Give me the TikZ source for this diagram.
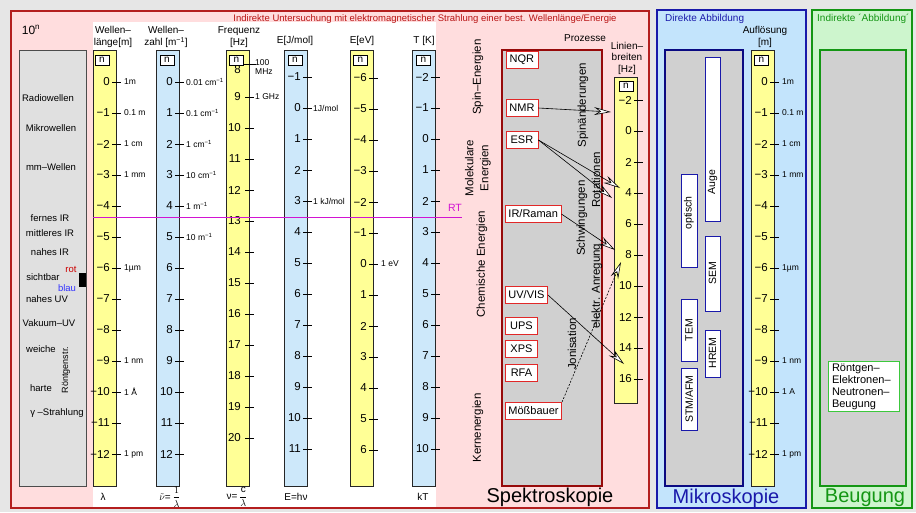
\documentclass[tikz,border=0pt]{standalone}
\usepackage{fontspec}
\setmainfont{Liberation Sans}
\usepackage{amsmath}
\usetikzlibrary{arrows.meta}

\definecolor{bggray}{RGB}{230,230,230}
\definecolor{pinkbg}{RGB}{255,221,222}
\definecolor{pinkedge}{RGB}{180,30,30}
\definecolor{titlered}{RGB}{185,20,20}
\definecolor{colyellow}{RGB}{255,255,150}
\definecolor{colblue}{RGB}{205,232,250}
\definecolor{specgray}{RGB}{224,224,224}
\definecolor{procgray}{RGB}{208,208,208}
\definecolor{procdark}{RGB}{150,10,10}
\definecolor{procred}{RGB}{225,40,40}
\definecolor{rtmag}{RGB}{210,20,210}
\definecolor{mikbg}{RGB}{195,228,252}
\definecolor{mikblue}{RGB}{25,25,170}
\definecolor{mikdark}{RGB}{10,10,130}
\definecolor{beugbg}{RGB}{205,245,205}
\definecolor{beuggreen}{RGB}{20,150,20}
\definecolor{beuglight}{RGB}{60,200,60}

% Zahl mit echtem Minuszeichen
\newcommand{\sgnum}[1]{\ifnum\numexpr#1\relax<0 −\number\numexpr0-(#1)\relax\else\number\numexpr#1\relax\fi}

\begin{document}
\begin{tikzpicture}[x=1pt, y=-1pt,
    colframe/.style={draw=black!85, line width=1pt},
    nbox/.style={draw, fill=white, line width=0.7pt, minimum width=14pt, minimum height=10pt, inner sep=0pt, font=\fontsize{10}{10}\selectfont},
    numlbl/.style={anchor=east, inner sep=0pt, font=\fontsize{11.5}{12}\selectfont},
    sidelbl/.style={anchor=west, inner sep=0pt, font=\fontsize{8.5}{9}\selectfont},
    headlbl/.style={align=center, inner sep=0pt, font=\fontsize{10}{12.5}\selectfont},
    speclbl/.style={inner sep=0pt, font=\fontsize{9.5}{10}\selectfont},
    vlbl/.style={rotate=90, inner sep=0pt, font=\fontsize{11.5}{15}\selectfont},
    procbox/.style={draw=procred, fill=white, line width=0.9pt, inner xsep=3pt, inner ysep=0pt, minimum width=32pt, minimum height=17pt, font=\fontsize{11}{12}\selectfont},
    instbar/.style={draw=mikblue, fill=white, line width=0.8pt},
    instlbl/.style={rotate=90, inner sep=0pt, font=\fontsize{10.5}{11}\selectfont},
    biglbl/.style={inner sep=0pt, font=\fontsize{20}{22}\selectfont},
    hollow/.style={-{Stealth[length=17pt, width=8pt, inset=6pt, fill=white]}, line width=0.6pt},
  ]
  \fill[bggray] (0,0) rectangle (916,512);
  \useasboundingbox (0,0) rectangle (916,512);

  % Indirekte Untersuchung
  \draw[draw=pinkedge, fill=pinkbg, line width=1.2pt] (11,11) rectangle (649,508);
  \fill[white] (93,22) rectangle (436,507);
  \node[inner sep=0pt, text=titlered, font=\fontsize{9.5}{10}\selectfont] (title) at (425,19)
    {Indirekte Untersuchung mit elektromagnetischer Strahlung einer best. Wellenlänge/Energie};
  \node[inner sep=0pt, font=\fontsize{12}{12}\selectfont] (zehn) at (31,30) {10\textsuperscript{n}};

  % Spektralbereiche
  \draw[draw=black!70, fill=specgray, line width=0.9pt] (19,50) rectangle (86,486);
  \foreach \t/\x/\y [count=\i] in {Radiowellen/48/98, Mikrowellen/51/128, mm–Wellen/51/167,
      fernes IR/50/218, mittleres IR/50/233, nahes IR/50/252, sichtbar/43/277, nahes UV/47/299,
      Vakuum–UV/49/323, weiche/41/349, harte/41/388, γ –Strahlung/57/413}
    \node[speclbl] (band\i) at (\x,\y) {\t};
  \node[speclbl, text=red!80!black] (rot) at (71,269) {rot};
  \node[speclbl, text=blue!80!white] (blau) at (67,288) {blau};
  \node[speclbl, rotate=90, font=\fontsize{9}{9}\selectfont] (roentgen) at (66,370) {Röntgenstr.};
  \fill (79,273) rectangle (86,287);

  % Wellenlaenge
  \node[headlbl] (hd-wl) at (113,37) {Wellen–\\länge[m]};
  \draw[colframe, fill=colyellow] (93,50) rectangle (116,486);
  \foreach \k in {0,...,12}{
    \draw (112,{82+31*\k}) -- (121,{82+31*\k});
    \node[numlbl] (wl\k) at (110,{82+31*\k}) {\sgnum{-\k}};
  }
  \node[nbox] (wl-n) at (102,60) {n};
  \foreach \k/\t in {0/1m, 1/0.1 m, 2/1 cm, 3/1 mm, 6/1µm, 9/1 nm, 10/1 Å, 12/1 pm}
    \node[sidelbl] (wls\k) at (124,{82+31*\k}) {\t};
  \node[headlbl] (bl-wl) at (103,497) {λ};

  % Wellenzahl
  \node[headlbl] (hd-wz) at (166,37) {Wellen–\\zahl [m\textsuperscript{−1}]};
  \draw[colframe, fill=colblue] (156,50) rectangle (179,486);
  \foreach \k in {0,...,12}{
    \draw (175,{82+31*\k}) -- (184,{82+31*\k});
    \node[numlbl] (wz\k) at (173,{82+31*\k}) {\k};
  }
  \node[nbox] (wz-n) at (167,60) {n};
  \foreach \k/\t in {0/0.01 cm, 1/0.1 cm, 2/1 cm, 3/10 cm, 4/1 m, 5/10 m}
    \node[sidelbl] (wzs\k) at (186,{82+31*\k}) {\t\textsuperscript{−1}};
  \node[headlbl] (bl-wz) at (170,497) {$\tilde{\nu}$=\,$\dfrac{1}{\lambda}$};

  % Frequenz
  \node[headlbl] (hd-fq) at (239,37) {Frequenz\\{}[Hz]};
  \draw[colframe, fill=colyellow] (226,50) rectangle (249,486);
  \foreach \k in {9,...,20}{
    \draw (245,{97+31*(\k-9)}) -- (254,{97+31*(\k-9)});
    \node[numlbl] (fq\k) at (241,{97+31*(\k-9)}) {\k};
  }
  \draw (244,64) -- (256,64);
  \node[numlbl] (fq8) at (241,70) {8};
  \node[nbox] (fq-n) at (236.5,60) {n};
  \node[sidelbl, align=left, font=\fontsize{8.5}{9.5}\selectfont] (fqs8) at (255,67) {100\\MHz};
  \node[sidelbl] (fqs9) at (255,97) {1 GHz};
  \node[headlbl] (bl-fq) at (237,497) {ν=\,$\dfrac{\text{c}}{\lambda}$};

  % Energie J/mol
  \node[headlbl] (hd-ej) at (295,41) {E[J/mol]};
  \draw[colframe, fill=colblue] (284,50) rectangle (307,486);
  \foreach \k [count=\i] in {-1,...,11}{
    \draw (303,{108+31*(\k)}) -- (312,{108+31*(\k)});
    \node[numlbl] (ej\i) at (301,{108+31*(\k)}) {\sgnum{\k}};
  }
  \node[nbox] (ej-n) at (295,60) {n};
  \node[sidelbl] (ejs0) at (313,108) {1J/mol};
  \node[sidelbl] (ejs3) at (313,201) {1 kJ/mol};
  \node[headlbl] (bl-ej) at (296,497) {E=hν};

  % Energie eV
  \node[headlbl] (hd-ev) at (362,41) {E[eV]};
  \draw[colframe, fill=colyellow] (350,50) rectangle (373,486);
  \foreach \k [count=\i] in {-6,...,6}{
    \draw (369,{264+31*(\k)}) -- (378,{264+31*(\k)});
    \node[numlbl] (ev\i) at (367,{264+31*(\k)}) {\sgnum{\k}};
  }
  \node[nbox] (ev-n) at (360.5,60) {n};
  \node[sidelbl] (evs0) at (381,264) {1 eV};

  % Temperatur
  \node[headlbl] (hd-tk) at (424,41) {T [K]};
  \draw[colframe, fill=colblue] (412,50) rectangle (435,486);
  \foreach \k [count=\i] in {-2,...,10}{
    \draw (431,{139+31*(\k)}) -- (440,{139+31*(\k)});
    \node[numlbl] (tk\i) at (429,{139+31*(\k)}) {\sgnum{\k}};
  }
  \node[nbox] (tk-n) at (423.5,60) {n};
  \node[headlbl] (bl-tk) at (423,497) {kT};

  % Raumtemperatur
  \coordinate (rtstart) at (93,217);
  \node[inner sep=0pt, text=rtmag, font=\fontsize{10.5}{11}\selectfont] (rt) at (455,208) {RT};
  \draw[rtmag, line width=0.9pt] (rtstart) -- (rtstart -| rt.east);

  % Spektroskopie
  \node[vlbl] (spin) at (478,77) {Spin–Energien};
  \node[vlbl, align=center] (molek) at (478,168) {Molekulare\\Energien};
  \node[vlbl] (chem) at (482,264) {Chemische Energien};
  \node[vlbl] (kern) at (478,428) {Kernenergien};

  \draw[draw=procdark, fill=procgray, line width=1.6pt] (502,50) rectangle (602,486);
  \node[headlbl] (prozesse) at (585,38) {Prozesse};

  \node[procbox, anchor=west] (nqr) at (505.5,60) {NQR};
  \node[procbox, anchor=west] (nmr) at (505.5,108) {NMR};
  \node[procbox, anchor=west] (esr) at (505.5,140) {ESR};
  \node[procbox, anchor=west] (irraman) at (505,214) {IR/Raman};
  \node[procbox, anchor=west] (uvvis) at (505,295) {UV/VIS};
  \node[procbox, anchor=west] (ups) at (505,326) {UPS};
  \node[procbox, anchor=west] (xps) at (505,349) {XPS};
  \node[procbox, anchor=west] (rfa) at (505,373) {RFA};
  \node[procbox, anchor=west] (moess) at (505,411) {Mößbauer};

  \node[vlbl] (spinaend) at (583,105) {Spinänderungen};
  \node[vlbl] (rotat) at (596,180) {Rotationen};
  \node[vlbl] (schwing) at (582,218) {Schwingungen};
  \node[vlbl] (elanr) at (597,286) {elektr. Anregung};
  \node[vlbl] (jonis) at (572,344) {Jonisation};

  % Linienbreiten
  \node[headlbl, font=\fontsize{10}{11.5}\selectfont] (hd-lb) at (627,58) {Linien–\\breiten\\{}[Hz]};
  \draw[colframe, fill=colyellow] (614,77) rectangle (637,403);
  \foreach \k [count=\i] in {-2,0,...,16}{
    \draw (634,{131+15.5*(\k)}) -- (643,{131+15.5*(\k)});
    \node[numlbl] (lb\i) at (632,{131+15.5*(\k)}) {\sgnum{\k}};
  }
  \node[nbox] (lb-n) at (626,86) {n};

  \coordinate (tipnmr) at (611,112);
  \coordinate (tipesra) at (620,188);
  \coordinate (tipesrb) at (612,198);
  \coordinate (tipir) at (615,250);
  \coordinate (tipuv) at (624,364);
  \coordinate (tipmoess) at (621,262);
  \draw[hollow] (nmr.east) -- (tipnmr);
  \draw[hollow] (esr.east) -- (tipesra);
  \draw[hollow] (esr.east) -- (tipesrb);
  \draw[hollow] (irraman.east) -- (tipir);
  \draw[hollow] (uvvis.east) -- (tipuv);
  \draw[hollow, dash pattern=on 2pt off 1.5pt] (moess.north east) -- (tipmoess);

  \node[biglbl] (spektro) at (550,497) {Spektroskopie};

  % Mikroskopie
  \draw[draw=mikblue, fill=mikbg, line width=1.2pt] (657,10) rectangle (806,508);
  \node[anchor=west, inner sep=0pt, text=mikblue, font=\fontsize{10}{10}\selectfont] (direkt) at (665,19) {Direkte Abbildung};
  \draw[draw=mikdark, fill=procgray, line width=1.6pt] (665,50) rectangle (743,486);

  \draw[instbar] (681,174) rectangle (697,267);
  \node[instlbl] (optisch) at (689,213) {optisch};
  \draw[instbar] (705,57) rectangle (720,221);
  \node[instlbl] (auge) at (712.5,182) {Auge};
  \draw[instbar] (705,236) rectangle (720,311);
  \node[instlbl] (sem) at (712.5,273) {SEM};
  \draw[instbar] (681,299) rectangle (697,361);
  \node[instlbl] (tem) at (689,330) {TEM};
  \draw[instbar] (705,330) rectangle (720,377);
  \node[instlbl] (hrem) at (712.5,353) {HREM};
  \draw[instbar] (681,368) rectangle (697,430);
  \node[instlbl] (stm) at (689,399) {STM/AFM};

  \node[headlbl] (hd-af) at (765,37) {Auflösung\\{}[m]};
  \draw[colframe, fill=colyellow] (751,50) rectangle (774,486);
  \foreach \k in {0,...,12}{
    \draw (770,{82+31*\k}) -- (779,{82+31*\k});
    \node[numlbl] (af\k) at (768,{82+31*\k}) {\sgnum{-\k}};
  }
  \node[nbox] (af-n) at (761.5,60) {n};
  \foreach \k/\t in {0/1m, 1/0.1 m, 2/1 cm, 3/1 mm, 6/1µm, 9/1 nm, 10/1 A, 12/1 pm}
    \node[sidelbl] (afs\k) at (782,{82+31*\k}) {\t};

  \node[biglbl, text=mikblue] (mikro) at (726,498) {Mikroskopie};

  % Beugung
  \draw[draw=beuggreen, fill=beugbg, line width=1.2pt] (812,10) rectangle (912,508);
  \node[anchor=west, inner sep=0pt, text=beuggreen, font=\fontsize{10}{10}\selectfont] (indirekt) at (817,19) {Indirekte ´Abbildung´};
  \draw[draw=beuggreen, fill=procgray, line width=1.6pt] (820,50) rectangle (906,486);
  \node[draw=beuglight, fill=white, line width=0.8pt, align=left, text width=63pt, inner xsep=4pt, inner ysep=2pt,
    font=\fontsize{11}{12}\selectfont] (beugbox) at (863.5,386.5) {Röntgen–\\Elektronen–\\Neutronen–\\Beugung};
  \node[biglbl, text=beuggreen] (beug) at (865,498) {Beugung};
\end{tikzpicture}
\end{document}
